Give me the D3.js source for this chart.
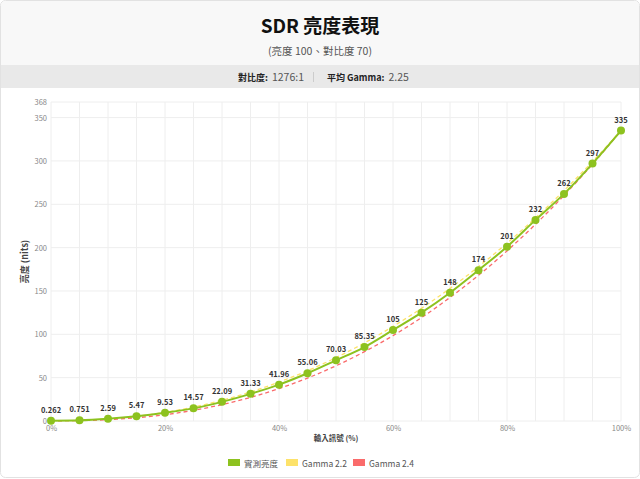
<!DOCTYPE html>
<html>
<head>
<meta charset="utf-8">
<script src="https://cdn.jsdelivr.net/npm/d3@7"></script>
<style>
  body { margin: 0; background: #fff; font-family: "Noto Sans CJK TC", "Noto Sans", sans-serif; }
  svg { display: block; }
</style>
</head>
<body>
<svg id="chart"></svg>
<script>
const inputs = [0, 5, 10, 15, 20, 25, 30, 35, 40, 45, 50, 55, 60, 65, 70, 75, 80, 85, 90, 95, 100]
const measured = [0.262, 0.751, 2.59, 5.47, 9.53, 14.57, 22.09, 31.33, 41.96, 55.06, 70.03, 85.35, 105, 125, 148, 174, 201, 232, 262, 297, 335]
const gamma22 = [0.26, 0.72, 2.37, 5.42, 9.97, 16.1, 23.9, 33.5, 44.9, 58.0, 73.1, 90.1, 109.1, 130.0, 153.0, 178.0, 205.2, 234.4, 265.8, 299.3, 335]
const gamma24 = [0.26, 0.51, 1.59, 3.79, 7.29, 12.3, 18.9, 27.2, 37.4, 49.5, 63.7, 80.0, 98.5, 119.3, 142.5, 168.1, 196.2, 226.9, 260.2, 296.2, 335]
const yTicks = [0, 50, 100, 150, 200, 250, 300, 350, 368]
const xTicks = [0, 20, 40, 60, 80, 100]
const legendNames = ["實測亮度", "Gamma 2.2", "Gamma 2.4"]
const legendColors = ["#8dc21f", "#fde26a", "#fa6b6b"]

let width = 640
let height = 479
let padLeft = 51, padRight = 621, padTop = 102, padBottom = 421

let svg = d3.select('#chart').attr('width', width).attr('height', height)

// card + header
svg.append('rect').attr('x', 0.5).attr('y', 0.5).attr('width', width - 1).attr('height', height - 2)
   .attr('rx', 5).attr('fill', '#fff').attr('stroke', '#e2e2e2')
svg.append('path').attr('d', 'M1,65 V6 Q1,1 6,1 H634 Q639,1 639,6 V65 Z').attr('fill', '#f8f8f8')
svg.append('rect').attr('x', 1).attr('y', 65).attr('width', 638).attr('height', 23).attr('fill', '#e9e9e9')

svg.append('text').attr('x', 320).attr('y', 33).attr('text-anchor', 'middle')
   .attr('font-size', 19).attr('font-weight', 700).attr('fill', '#111').text('SDR 亮度表現')
svg.append('text').attr('x', 320).attr('y', 55).attr('text-anchor', 'middle')
   .attr('font-size', 10.5).attr('fill', '#555').text('(亮度 100、對比度 70)')

let stats = svg.append('text').attr('y', 81).attr('font-size', 9)
stats.append('tspan').attr('x', 238).attr('font-weight', 700).attr('fill', '#222').text('對比度:')
stats.append('tspan').attr('dx', 4).attr('font-size', 10.5).attr('fill', '#555').text('1276:1')
svg.append('line').attr('x1', 313.5).attr('x2', 313.5).attr('y1', 72).attr('y2', 82).attr('stroke', '#ccc')
let stats2 = svg.append('text').attr('y', 81).attr('font-size', 9)
stats2.append('tspan').attr('x', 327).attr('font-weight', 700).attr('fill', '#222').text('平均 Gamma:')
stats2.append('tspan').attr('dx', 4).attr('font-size', 10.5).attr('fill', '#555').text('2.25')

// scales
let xScale = d3.scaleLinear().domain([0, 100]).range([padLeft, padRight])
let yScale = d3.scaleLinear().domain([0, 368]).range([padBottom, padTop])

// grid
svg.append('g').selectAll('line').data(inputs).enter().append('line')
   .attr('x1', d => xScale(d)).attr('x2', d => xScale(d))
   .attr('y1', padTop).attr('y2', padBottom).attr('stroke', '#eeeeee')
svg.append('g').selectAll('line').data(yTicks).enter().append('line')
   .attr('x1', padLeft).attr('x2', padRight)
   .attr('y1', d => yScale(d)).attr('y2', d => yScale(d)).attr('stroke', '#eeeeee')

// axes
let xAxis = d3.axisBottom(xScale).tickValues(xTicks).tickSize(0).tickPadding(5).tickFormat(d => d + '%')
let yAxis = d3.axisLeft(yScale).tickValues(yTicks).tickSize(0).tickPadding(4)
let gx = svg.append('g').attr('transform', 'translate(0,' + padBottom + ')').call(xAxis)
let gy = svg.append('g').attr('transform', 'translate(' + padLeft + ',0)').call(yAxis)
for (let g of [gx, gy]) {
  g.select('.domain').remove()
  g.selectAll('text').attr('fill', '#888').attr('font-size', 7.5)
   .attr('font-family', '"Noto Sans CJK TC", "Noto Sans", sans-serif')
}

svg.append('text').attr('x', 336).attr('y', 441).attr('text-anchor', 'middle')
   .attr('font-size', 7.5).attr('font-weight', 700).attr('fill', '#444').text('輸入訊號 (%)')
svg.append('text').attr('transform', 'translate(28,' + ((padTop + padBottom) / 2) + ') rotate(-90)')
   .attr('text-anchor', 'middle').attr('font-size', 9).attr('font-weight', 700).attr('fill', '#444').text('亮度 (nits)')

// lines
let line = d3.line().x((d, i) => xScale(inputs[i])).y(d => yScale(d)).curve(d3.curveMonotoneX)
svg.append('path').datum(gamma22).attr('d', line).attr('fill', 'none')
   .attr('stroke', legendColors[1]).attr('stroke-width', 1.3).attr('stroke-dasharray', '4,3')
svg.append('path').datum(gamma24).attr('d', line).attr('fill', 'none')
   .attr('stroke', legendColors[2]).attr('stroke-width', 1.3).attr('stroke-dasharray', '4,3')
svg.append('path').datum(measured).attr('d', line).attr('fill', 'none')
   .attr('stroke', legendColors[0]).attr('stroke-width', 2)

svg.append('g').selectAll('circle').data(measured).enter().append('circle')
   .attr('cx', (d, i) => xScale(inputs[i])).attr('cy', d => yScale(d))
   .attr('r', 4).attr('fill', legendColors[0])

svg.append('g').selectAll('text').data(measured).enter().append('text')
   .attr('x', (d, i) => xScale(inputs[i])).attr('y', d => yScale(d) - 8)
   .attr('text-anchor', 'middle').attr('font-size', 7.5).attr('font-weight', 700).attr('fill', '#333')
   .text(d => d)

// legend
let legendX = [228, 286, 353]
let lg = svg.append('g').selectAll('g').data(legendNames).enter().append('g')
   .attr('transform', (d, i) => 'translate(' + legendX[i] + ',459)')
lg.append('rect').attr('width', 12).attr('height', 7).attr('fill', (d, i) => legendColors[i])
lg.append('text').attr('x', 16).attr('y', 7.5).attr('font-size', 8.5).attr('fill', '#555').text(d => d)
</script>
</body>
</html>
